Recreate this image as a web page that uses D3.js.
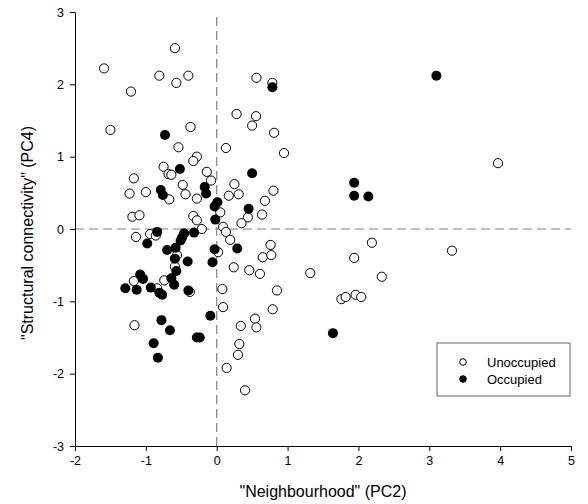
<!DOCTYPE html>
<html>
<head>
<meta charset="utf-8">
<script src="https://cdn.jsdelivr.net/npm/d3@7"></script>
<style>
  body { margin: 0; background: #fff; }
  svg { display: block; font-family: Arial, "Liberation Sans", sans-serif; }
</style>
</head>
<body>
<div id="chart"></div>
<script>
// PC2 / PC4 scores
const unoccupiedPC2 = [-1.59, -1.21, -1.50, -0.59, -0.81, -0.57, -0.40, -0.37, -0.54, -0.28,
  -0.33, -0.75, -0.68, -0.64, -0.14, -0.08, -1.17, -0.48, -0.44, -1.23,
  -1.00, -0.67, -0.28, 0.05, -1.19, -1.09, -0.33, -0.28, -0.21, 0.09,
  0.13, 0.19, -0.94, -1.14, -0.86, -0.56, 0.02, -0.59, -0.74, -1.17,
  -0.84, -0.38, 0.08, 0.09, -1.16, 0.13, 0.28, 0.555, 0.50, 0.56,
  0.785, 0.81, 0.95, 0.25, 0.31, 0.17, 0.80, 0.68, 0.44, 0.64,
  0.35, 0.24, 0.46, 0.61, 0.76, 0.65, 0.77, 1.32, 2.19, 1.94,
  2.33, 1.76, 1.82, 1.96, 2.04, 0.85, 0.79, 0.54, 0.56, 0.34,
  0.32, 0.30, 0.14, 0.40, 3.97, 3.32];
const unoccupiedPC4 = [2.22, 1.90, 1.37, 2.50, 2.12, 2.02, 2.12, 1.41, 1.13, 1.00,
  0.94, 0.86, 0.76, 0.75, 0.79, 0.67, 0.70, 0.61, 0.48, 0.49,
  0.51, 0.41, 0.42, 0.23, 0.17, 0.19, 0.18, 0.12, 0.00, 0.03,
  -0.04, -0.15, -0.07, -0.11, -0.09, -0.36, -0.32, -0.52, -0.71, -0.72,
  -0.82, -0.87, -0.83, -1.08, -1.33, 1.12, 1.59, 1.56, 1.43, 2.09,
  2.02, 1.33, 1.05, 0.62, 0.48, 0.46, 0.53, 0.39, 0.16, 0.20,
  0.08, -0.53, -0.57, -0.62, -0.22, -0.39, -0.36, -0.61, -0.19, -0.40,
  -0.66, -0.97, -0.94, -0.91, -0.94, -0.85, -1.11, -1.24, -1.36, -1.34,
  -1.59, -1.74, -1.92, -2.23, 0.91, -0.30];

const occupiedPC2 = [-0.73, -0.52, -0.17, -0.15, -0.79, -0.76, 0.01, -0.03, -0.02, 0.785,
  3.10, 0.50, 0.45, 1.94, 1.94, 2.14, -0.84, -0.98, -0.46, -0.49,
  -0.51, -0.32, -0.70, -0.58, -0.59, -0.41, -0.03, -0.06, 0.29, -0.57,
  -0.64, -0.60, -1.08, -1.04, -1.29, -1.13, -0.93, -0.81, -0.77, -0.40,
  -0.09, -0.78, -0.66, -0.89, -0.83, -0.28, -0.24, 1.64];
const occupiedPC4 = [1.30, 0.83, 0.58, 0.49, 0.54, 0.47, 0.37, 0.31, 0.13, 1.96,
  2.12, 0.77, 0.28, 0.64, 0.46, 0.45, -0.04, -0.20, -0.06, -0.12,
  -0.16, -0.05, -0.29, -0.26, -0.41, -0.45, -0.28, -0.46, -0.27, -0.58,
  -0.68, -0.77, -0.63, -0.69, -0.82, -0.84, -0.81, -0.88, -0.91, -0.85,
  -1.20, -1.26, -1.40, -1.58, -1.78, -1.50, -1.50, -1.44];

const xTicks = [-2, -1, 0, 1, 2, 3, 4, 5];
const yTicks = [-3, -2, -1, 0, 1, 2, 3];
const seriesNames = ['Unoccupied', 'Occupied'];

const width = 588, height = 504;
const margin = { top: 12, right: 17, bottom: 58, left: 75 };

const svg = d3.select('#chart').append('svg')
  .attr('width', width)
  .attr('height', height);

const x = d3.scaleLinear().domain([-2, 5]).range([margin.left, width - margin.right]);
const y = d3.scaleLinear().domain([-3, 3]).range([height - margin.bottom, margin.top]);

// plain hyphen minus, no decimals
const tickFmt = d => String(d);

// Reference lines at zero
svg.append('line')
  .attr('x1', x(-2)).attr('x2', x(5))
  .attr('y1', y(0)).attr('y2', y(0))
  .attr('stroke', '#808080').attr('stroke-width', 1.2)
  .attr('stroke-dasharray', '9,5');
svg.append('line')
  .attr('x1', x(0)).attr('x2', x(0))
  .attr('y1', y(-3)).attr('y2', y(3))
  .attr('stroke', '#808080').attr('stroke-width', 1.2)
  .attr('stroke-dasharray', '9,5');

// Axes
const xAxis = svg.append('g')
  .attr('transform', `translate(0,${y(-3)})`)
  .call(d3.axisBottom(x).tickValues(xTicks).tickFormat(tickFmt)
    .tickSize(5).tickPadding(5).tickSizeOuter(0));
const yAxis = svg.append('g')
  .attr('transform', `translate(${x(-2)},0)`)
  .call(d3.axisLeft(y).tickValues(yTicks).tickFormat(tickFmt)
    .tickSize(5).tickPadding(6).tickSizeOuter(0));
[xAxis, yAxis].forEach(a => {
  a.selectAll('text').attr('font-size', '12.5px').attr('fill', '#000')
    .attr('font-family', 'Arial, "Liberation Sans", sans-serif');
  a.selectAll('line, path').attr('stroke', '#000');
});

// Points
const unoccupied = unoccupiedPC2.map((v, i) => ({ pc2: v, pc4: unoccupiedPC4[i] }));
const occupied = occupiedPC2.map((v, i) => ({ pc2: v, pc4: occupiedPC4[i] }));

svg.append('g').selectAll('circle')
  .data(unoccupied)
  .join('circle')
  .attr('cx', d => x(d.pc2))
  .attr('cy', d => y(d.pc4))
  .attr('r', 4.6)
  .attr('fill', '#fff')
  .attr('stroke', '#000')
  .attr('stroke-width', 1);

svg.append('g').selectAll('circle')
  .data(occupied)
  .join('circle')
  .attr('cx', d => x(d.pc2))
  .attr('cy', d => y(d.pc4))
  .attr('r', 5)
  .attr('fill', '#000');

// Axis titles
svg.append('text')
  .attr('x', (x(-2) + x(5)) / 2)
  .attr('y', 497)
  .attr('text-anchor', 'middle')
  .attr('font-size', '16px')
  .text('"Neighbourhood" (PC2)');
svg.append('text')
  .attr('transform', `translate(33,${(y(-3) + y(3)) / 2 + 4}) rotate(-90)`)
  .attr('text-anchor', 'middle')
  .attr('font-size', '16px')
  .text('"Structural connectivity" (PC4)');

// Legend
const legend = svg.append('g').attr('transform', 'translate(437,343)');
legend.append('rect')
  .attr('width', 133).attr('height', 53)
  .attr('fill', '#fff').attr('stroke', '#666').attr('stroke-width', 1);
seriesNames.forEach((name, i) => {
  const row = legend.append('g').attr('transform', `translate(0,${19 + i * 17})`);
  row.append('circle')
    .attr('cx', 26).attr('cy', 0).attr('r', 3.3)
    .attr('fill', i === 0 ? '#fff' : '#000')
    .attr('stroke', '#000').attr('stroke-width', 1);
  row.append('text')
    .attr('x', 50).attr('y', 0).attr('dy', '0.35em')
    .attr('font-size', '13px')
    .text(name);
});
</script>
</body>
</html>
